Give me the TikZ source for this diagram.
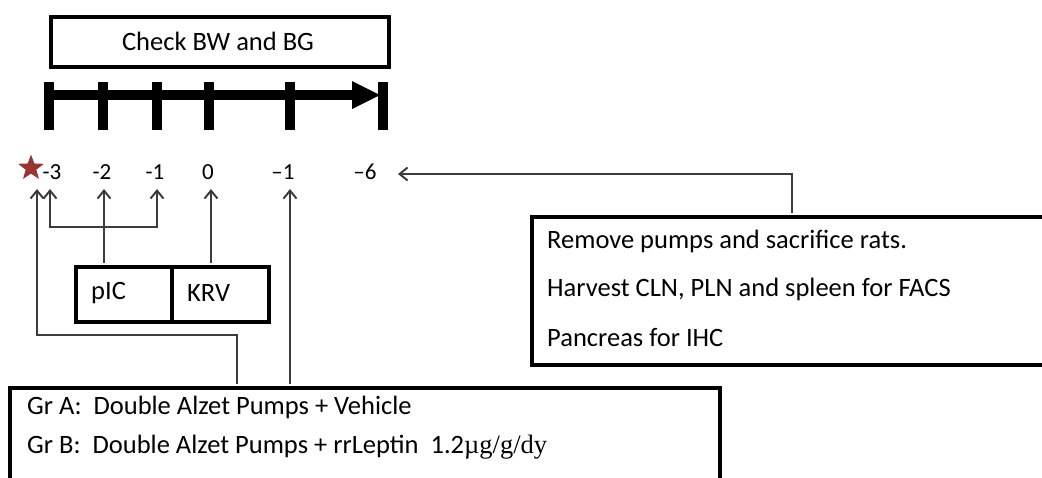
\documentclass[tikz,border=0pt]{standalone}
\usepackage{fontspec}
\setmainfont{Carlito}
\newfontfamily\serifpart{Liberation Serif}
\usetikzlibrary{arrows.meta,shapes.geometric}
\definecolor{starred}{RGB}{153,52,50}
\definecolor{conncol}{RGB}{60,60,60}
\tikzset{
  box/.style={draw=black, line width=3.5pt, fill=white, inner sep=0pt},
  txt/.style={inner sep=0pt, font=\fontsize{26.5}{30}\selectfont},
  lbl/.style={inner sep=0pt, font=\fontsize{23}{28}\selectfont},
  conn/.style={draw=conncol, line width=2pt},
  tip/.style={-{Straight Barb[length=8pt,width=13pt]}},
  tick/.style={line width=10pt},
}
\begin{document}
\begin{tikzpicture}[x=1pt,y=-1pt]
\useasboundingbox (0,0) rectangle (1042,477);
\clip (0,0) rectangle (1042,477);
% top box
\node[box, minimum width=338pt, minimum height=50pt, anchor=north west] (check) at (49,15) {};
\node[txt] (checkt) at (218,41) {Check BW and BG};
% timeline
\draw[tick] (45,95) -- (360,95);
\fill (352,81) -- (380,95) -- (352,109) -- cycle;
\foreach \x in {49,103,157,209,290,383} \draw[tick] (\x,82) -- (\x,130);
% labels
\node[star, star points=5, star point ratio=2.4, fill=starred, minimum size=27pt, inner sep=0pt] (star) at (31,168) {};
\node[lbl] (l3) at (52,172) {-3};
\node[lbl] (l2) at (102,172) {-2};
\node[lbl] (l1) at (155,172) {-1};
\node[lbl] (l0) at (208,172) {0};
\node[lbl] (m1) at (283,172) {–1};
\node[lbl] (m6) at (365,172) {–6};
% arrow tips
\coordinate (t3a) at (37,189);
\coordinate (t3b) at (50,189);
\coordinate (t2) at (104,189);
\coordinate (t1) at (157,189);
\coordinate (t0) at (211,189);
\coordinate (tm1) at (290,189);
\coordinate (tm6) at (398,174);
% pIC / KRV box
\node[box, minimum width=96pt, minimum height=55pt, anchor=north west] (pic) at (74,265) {};
\node[box, minimum width=97pt, minimum height=55pt, anchor=north west] (krv) at (170,265) {};
\node[txt, anchor=west] (pict) at (91,293) {pIC};
\node[txt, anchor=west] (krvt) at (187,293) {KRV};
% Gr box
\node[box, minimum width=710pt, minimum height=140pt, anchor=north west] (gr) at (8,386) {};
\node[txt, anchor=west] (gra) at (27,407) {Gr A:\ \ Double Alzet Pumps + Vehicle};
\node[txt, anchor=west] (grb) at (27,447) {Gr B:\ \ Double Alzet Pumps + rrLeptin\ \ 1.2{\serifpart µg/g/dy}};
% Remove box
\node[box, minimum width=540pt, minimum height=148pt, anchor=north west] (rem) at (530,215) {};
\node[txt, anchor=west] (r1) at (547,241) {Remove pumps and sacrifice rats.};
\node[txt, anchor=west] (r2) at (547,289) {Harvest CLN, PLN and spleen for FACS};
\node[txt, anchor=west] (r3) at (547,338) {Pancreas for IHC};
% connector anchors on boxes
\coordinate (pp) at (104,263);
\coordinate (kk) at (211,263);
\coordinate (g1) at (237,384);
\coordinate (g2) at (290,384);
\coordinate (rr) at (792,213);
% connectors
\draw[conn, tip] (pp) -- (t2);
\draw[conn, {Straight Barb[length=8pt,width=13pt]}-{Straight Barb[length=8pt,width=13pt]}] (t3b) -- ++(0,38) -| (t1);
\draw[conn, tip] (kk) -- (t0);
\draw[conn, tip] (g1) -- ++(0,-49) -| (t3a);
\draw[conn, tip] (g2) -- (tm1);
\draw[conn, tip] (rr) |- (tm6);
\end{tikzpicture}
\end{document}
